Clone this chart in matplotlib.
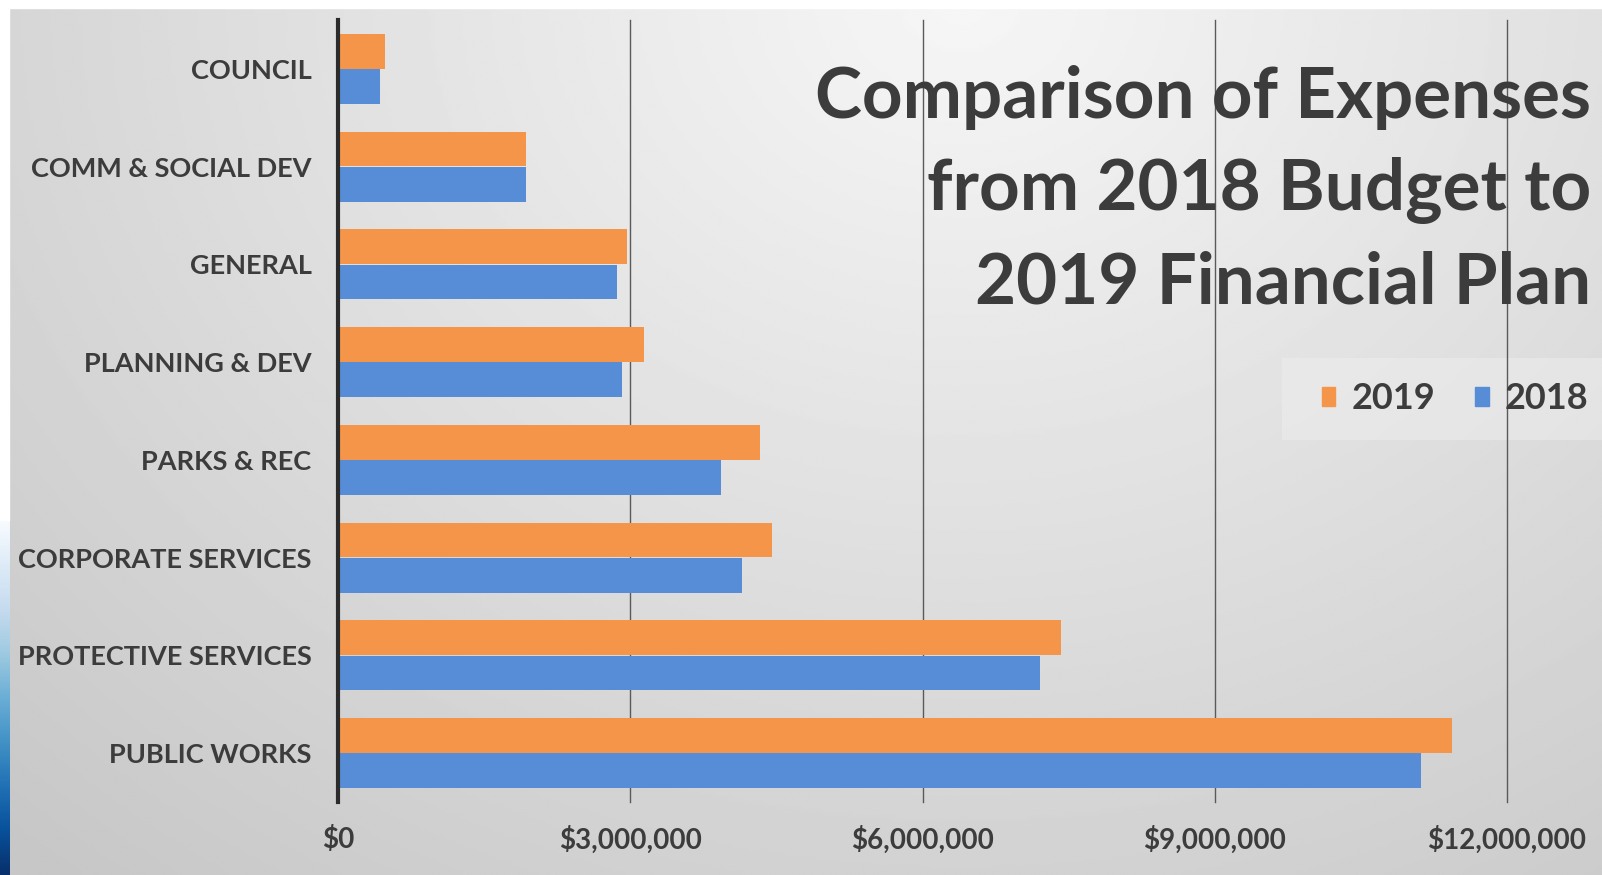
import numpy as np
import matplotlib.pyplot as plt
from matplotlib.patches import Patch, Rectangle
from matplotlib.ticker import FuncFormatter, MultipleLocator

# departments, top to bottom
departments = ['COUNCIL', 'COMM & SOCIAL DEV', 'GENERAL', 'PLANNING & DEV',
               'PARKS & REC', 'CORPORATE SERVICES', 'PROTECTIVE SERVICES',
               'PUBLIC WORKS']
# expenses in dollars
exp_2019 = [480000, 1930000, 2970000, 3140000, 4330000, 4450000, 7420000, 11440000]
exp_2018 = [430000, 1930000, 2860000, 2920000, 3930000, 4150000, 7210000, 11120000]

title = 'Comparison of Expenses\nfrom 2018 Budget to\n2019 Financial Plan'

c19 = '#F5954A'
c18 = '#568DD6'
txt = '#3c3c3c'
font = 'Lato'

W, H = 1602, 875
fig = plt.figure(figsize=(W / 100, H / 100), dpi=100)

# grey gradient backdrop, lighter towards the top middle
bg = fig.add_axes((0, 0, 1, 1), zorder=-10)
yy, xx = np.mgrid[0:1:300j, 0:1:500j]
d = np.sqrt(((xx - 0.6) / 0.8) ** 2 + ((yy - 0.0) / 1.2) ** 2)
shade = np.clip(0.965 - 0.17 * d, 0.78, 0.97)
bg.imshow(shade, cmap='gray', vmin=0, vmax=1, extent=(0, 1, 0, 1),
          origin='upper', aspect='auto')
# white margin on the top and left, blue wave strip lower left
bg.axhspan(1 - 8 / H, 1, color='white')
bg.axvspan(0, 9 / W, ymin=1 - 520 / H, color='white')
wave = np.linspace(0.0, 1.0, 200).reshape(-1, 1)
bg.imshow(wave, cmap='Blues', vmin=0.0, vmax=1.0,
          extent=(0, 10 / W, 0, 1 - 520 / H), origin='upper', aspect='auto')
# faint panel behind the legend
bg.add_patch(Rectangle((1282 / W, 1 - 440 / H), 1 - 1282 / W, 82 / H,
                       color='#f0f0f0', alpha=0.45, lw=0))
bg.set_xlim(0, 1)
bg.set_ylim(0, 1)
bg.axis('off')

ax = fig.add_axes((338 / W, 1 - 802 / H, (1507 - 338) / W, (802 - 20) / H))
ax.patch.set_alpha(0)

y = np.arange(len(departments))
h = 0.355
ax.barh(y - 0.18, exp_2019, height=h, color=c19, zorder=3)
ax.barh(y + 0.18, exp_2018, height=h, color=c18, zorder=3)

ax.set_ylim(len(departments) - 0.5, -0.5)
ax.set_xlim(0, 12000000)
ax.xaxis.set_major_locator(MultipleLocator(3000000))
ax.xaxis.set_major_formatter(FuncFormatter(lambda v, p: f'${v:,.0f}'))
ax.set_yticks(y)
ax.set_yticklabels(departments)

ax.grid(axis='x', color='#5a5a5a', linewidth=1.0, zorder=1)
for line in ax.get_xgridlines():
    line.set_clip_on(False)
for s in ['top', 'right', 'bottom']:
    ax.spines[s].set_visible(False)
ax.spines['left'].set_color('#2b2b2b')
ax.spines['left'].set_linewidth(3)
ax.spines['left'].set_zorder(4)
ax.tick_params(axis='y', length=0, pad=19)
ax.tick_params(axis='x', length=0, pad=17)
for lab in ax.get_yticklabels():
    lab.set_fontsize(19.5)
for lab in ax.get_xticklabels():
    lab.set_fontsize(20)
for lab in ax.get_yticklabels() + ax.get_xticklabels():
    lab.set_fontfamily(font)
    lab.set_fontweight('bold')
    lab.set_color(txt)

fig.text(1591 / W, 1 - 190 / H, title, ha='right', va='center',
         fontsize=51, fontweight='bold', family=font, color=txt,
         linespacing=1.5)

handles = [Patch(color=c19, label='2019'), Patch(color=c18, label='2018')]
leg = fig.legend(handles=handles, loc='center right',
                 bbox_to_anchor=(1614 / W, 1 - 399 / H), ncol=2, frameon=False,
                 handlelength=0.38, handleheight=0.42, handletextpad=0.45,
                 columnspacing=1.1, borderpad=0.2,
                 prop={'family': font, 'weight': 'bold', 'size': 26})
for t in leg.get_texts():
    t.set_color(txt)

plt.savefig('out.png', dpi=100)
